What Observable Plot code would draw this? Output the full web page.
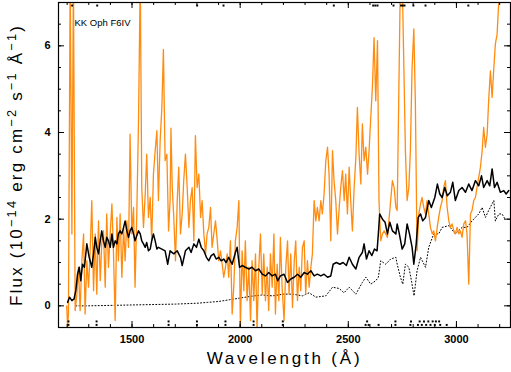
<!DOCTYPE html>
<html>
<head>
<meta charset="utf-8">
<script src="https://cdn.jsdelivr.net/npm/d3@7"></script>
<script src="https://cdn.jsdelivr.net/npm/@observablehq/plot@0.6"></script>
<style>
  html, body { margin: 0; padding: 0; background: #fff; }
  svg { display: block; }
</style>
</head>
<body>
<div id="chart"></div>
<script>
// ---- data ----
const title = "KK Oph F6IV";
const xLabel = "Wavelength (Å)";
const yLabel = "Flux (10-14 erg cm-2 s-1 Å-1)";
const xMajorTicks = [1500, 2000, 2500, 3000];
const yMajorTicks = [0, 2, 4, 6];

// orange (noisy) spectrum
const orangeWave = [1198,1202,1206,1214,1222,1229,1237,1245,1252,1260,1268,1276,1283,1291,1299,1306,1314,1322,1330,1337,1345,1353,1360,1368,1376,1383,1391,1399,1407,1414,1422,1430,1437,1445,1453,1461,1468,1476,1484,1491,1499,1507,1514,1522,1530,1538,1545,1553,1561,1568,1576,1584,1591,1599,1607,1615,1622,1630,1638,1645,1653,1661,1669,1676,1680,1686,1693,1701,1709,1716,1724,1732,1739,1747,1755,1763,1770,1778,1786,1793,1801,1809,1817,1824,1832,1840,1847,1855,1863,1870,1878,1886,1894,1901,1909,1917,1924,1932,1940,1947,1955,1963,1971,1978,1986,1994,2001,2009,2017,2024,2032,2040,2048,2055,2063,2071,2078,2086,2094,2102,2109,2117,2125,2132,2140,2148,2156,2163,2171,2179,2186,2194,2203,2211,2219,2226,2234,2242,2250,2257,2265,2273,2280,2288,2296,2303,2311,2319,2327,2334,2342,2350,2357,2365,2373,2380,2388,2396,2404,2411,2419,2427,2434,2442,2450,2458,2465,2473,2481,2488,2496,2504,2511,2519,2527,2535,2542,2550,2558,2565,2573,2581,2589,2596,2604,2612,2619,2627,2635,2642,2650,2658,2666,2673,2681,2689,2696,2704,2712,2720,2726,2733,2741,2749,2757,2764,2772,2780,2787,2795,2803,2810,2818,2826,2834,2841,2849,2857,2864,2872,2880,2888,2895,2903,2911,2918,2926,2934,2941,2949,2957,2965,2972,2980,2988,2995,3003,3011,3018,3026,3034,3042,3049,3057,3065,3072,3080,3088,3095,3103,3111,3119,3126,3134,3142,3149,3157,3165,3173,3180,3188,3196,3203,3211];
const orangeFlux = [0.0,-0.5,-0.19,7.6,1.66,7.6,-0.11,0.27,0.89,-0.11,1.04,1.66,-0.19,1.04,0.43,1.2,2.43,0.35,1.66,0.27,1.96,0.58,1.43,1.73,0.43,2.12,0.89,1.66,2.35,1.27,-0.34,2.04,1.04,2.12,0.66,1.81,1.04,1.96,1.35,3.96,1.66,2.27,0.43,2.12,4.27,7.6,2.73,1.81,2.58,3.5,2.04,2.5,1.5,3.04,3.58,4.04,2.43,3.81,4.58,5.92,3.35,3.5,1.73,2.43,4.1,2.73,2.04,1.04,2.43,3.2,1.66,2.12,2.89,3.5,2.73,1.81,2.43,2.73,1.5,3.93,2.73,3.04,2.04,2.43,1.66,1.2,1.66,1.81,2.27,1.35,1.66,1.96,1.5,1.04,1.27,0.96,0.66,0.89,1.2,0.66,1.5,-0.19,0.5,1.5,1.81,2.43,-0.5,1.27,0.35,1.5,0.12,0.89,-0.34,1.04,0.12,1.2,-0.55,0.89,1.66,0.27,1.2,0.12,0.89,-0.11,1.2,0.43,1.66,-0.19,0.96,0.12,1.58,0.43,-0.34,0.89,1.5,0.27,1.2,-0.04,1.04,1.5,0.12,0.89,0.35,1.35,1.5,0.27,1.04,0.43,0.89,1.2,2.43,1.96,2.27,1.96,2.43,2.12,2.58,3.35,3.66,3.04,1.5,3.58,2.89,2.43,1.66,2.27,2.73,3.12,2.43,3.04,2.12,3.2,2.43,1.73,2.73,3.43,4.58,3.5,2.81,4.2,3.35,3.66,3.04,3.58,4.35,5.12,6.19,4.73,6.12,2.43,1.5,1.66,1.73,1.66,1.58,2.04,2.43,2.89,2.73,2.27,2.2,4.7,7.6,7.6,5.5,3.58,2.43,2.73,3.58,5.5,6.39,4.73,1.27,2.12,2.35,2.5,2.27,2.12,2.43,2.12,1.81,1.66,1.73,1.5,1.81,2.04,2.27,2.43,2.73,2.89,2.27,1.96,1.81,1.89,1.73,1.66,1.81,1.66,1.73,1.58,1.89,1.96,1.66,0.5,2.12,2.2,2.43,2.5,2.73,2.96,3.2,3.58,4.12,3.66,3.96,4.73,5.42,4.81,5.5,6.04,6.27,7.04,7.6,8.0];

// black (solid) spectrum
const blackWave = [1202,1211,1222,1232,1240,1248,1256,1263,1271,1280,1291,1302,1314,1322,1330,1337,1345,1353,1360,1368,1376,1383,1391,1399,1407,1414,1422,1430,1437,1445,1453,1461,1468,1476,1484,1491,1499,1507,1514,1522,1530,1538,1545,1553,1561,1568,1576,1584,1591,1599,1607,1615,1622,1638,1653,1665,1676,1693,1709,1724,1732,1747,1763,1773,1786,1798,1809,1820,1832,1844,1855,1866,1878,1889,1901,1912,1924,1935,1947,1963,1978,1986,1997,2009,2024,2040,2055,2071,2086,2102,2117,2132,2148,2163,2174,2186,2203,2219,2234,2250,2265,2280,2296,2311,2327,2342,2357,2373,2388,2404,2419,2430,2445,2461,2476,2491,2504,2519,2535,2550,2565,2573,2584,2596,2609,2621,2633,2639,2645,2658,2670,2681,2692,2704,2720,2726,2736,2749,2761,2772,2783,2795,2803,2814,2823,2834,2844,2857,2872,2884,2900,2912,2923,2934,2946,2958,2972,2983,2995,3011,3026,3042,3057,3072,3088,3103,3116,3126,3142,3154,3165,3176,3188,3203,3219,3230,3242];
const blackFlux = [0.08,0.2,0.12,0.16,0.35,0.73,0.89,0.58,0.96,0.89,1.43,1.12,0.89,1.2,1.58,1.35,1.2,1.5,1.73,1.5,1.35,1.58,1.5,1.35,1.66,1.35,1.5,1.43,1.66,1.73,1.66,1.81,1.96,1.73,1.58,1.73,1.81,1.66,1.5,1.62,1.73,1.66,1.5,1.43,1.35,1.46,1.27,1.31,1.5,1.66,1.5,1.31,1.35,1.31,1.27,0.96,1.27,1.2,1.27,1.12,0.93,1.27,1.35,1.23,1.43,1.35,1.54,1.35,1.27,1.12,1.04,1.16,1.2,1.08,1.12,1.04,1.08,1.0,1.12,0.96,1.23,1.35,0.89,0.93,0.89,0.85,0.89,0.81,0.85,0.73,0.69,0.77,0.69,0.73,0.58,0.69,0.73,0.54,0.62,0.66,0.73,0.66,0.77,0.73,0.81,0.69,0.73,0.69,0.73,0.66,0.69,0.96,1.0,0.96,1.0,0.93,1.12,0.96,0.85,1.12,1.23,1.43,1.08,1.27,1.16,1.31,1.27,1.66,2.12,2.0,1.93,1.66,1.93,1.73,1.66,1.89,1.66,1.31,1.43,1.89,1.66,1.35,0.96,1.43,2.04,2.12,1.96,2.04,2.43,2.27,2.5,2.81,2.58,2.5,2.73,2.54,2.62,2.85,2.43,2.66,2.73,2.62,2.81,2.66,2.89,2.77,3.0,2.73,2.89,2.77,3.16,2.73,2.85,2.62,2.66,2.58,2.66];

// dotted spectrum
const dottedWave = [1240,1300,1400,1500,1600,1700,1750,1800,1850,1900,1950,2000,2050,2100,2150,2200,2242,2288,2319,2350,2396,2427,2458,2480,2504,2535,2565,2581,2604,2627,2639,2650,2673,2696,2720,2726,2741,2752,2764,2780,2792,2804,2818,2834,2857,2872,2895,2918,2934,2965,2995,3026,3049,3072,3103,3119,3134,3149,3173,3180,3196,3211,3225];
const dottedFlux = [0.0,0.0,0.01,0.02,0.03,0.04,0.05,0.06,0.08,0.1,0.14,0.18,0.22,0.25,0.23,0.27,0.27,0.23,0.3,0.2,0.23,0.43,0.4,0.3,0.43,0.27,0.54,0.66,0.5,0.58,0.66,1.04,0.96,1.08,1.12,0.96,0.66,0.5,0.96,0.89,0.58,0.23,0.81,1.12,0.89,1.35,1.66,1.66,1.81,1.85,1.66,1.81,1.81,1.96,2.12,2.27,2.04,2.2,2.43,1.96,2.12,2.12,2.0];

// flagged-pixel markers
const topFlagWave = [1223,1339,1801,1923,2433,2615,2625,2635,2709,2744,2752,2760,2801,2857,3055];
const topFlagFlux = 6.93;
const bottomFlagWaveA = [1206,1336,1669,1800,1932,2062,2197,2587,2718,2790,2830,2850,2870,2890,2905,2920];
const bottomFlagWaveB = [1206,1336,1669,1800,1932,2062,2197,2580,2594,2640,2718,2787,2822,2840,2860,2880,2900,2925,2955];
const bottomFlagFluxA = -0.36;
const bottomFlagFluxB = -0.44;

const xMinorTicks = d3.range(1200, 3201, 100);
const yMinorTicks = d3.range(-0.5, 7.01, 0.5);

// ---- build ----
const zip = (xs, ys) => xs.map((x, i) => ({x, y: ys[i]}));
const orange = zip(orangeWave, orangeFlux);
const black = zip(blackWave, blackFlux);
const dotted = zip(dottedWave, dottedFlux);
const topFlags = topFlagWave.map(x => ({x, y: topFlagFlux}));
const botFlags = bottomFlagWaveA.map(x => ({x, y: bottomFlagFluxA}))
  .concat(bottomFlagWaveB.map(x => ({x, y: bottomFlagFluxB})));

const W = 511, H = 372;
const mL = 58, mR = 1, mT = 2, mB = 45;
const fw = W - mL - mR, fh = H - mT - mB;

const chart = Plot.plot({
  width: W, height: H,
  marginLeft: mL, marginRight: mR, marginTop: mT, marginBottom: mB,
  style: {fontFamily: "Liberation Sans, Arial, sans-serif", background: "#fff", color: "#000"},
  x: {domain: [1160, 3250]},
  y: {domain: [-0.5, 7]},
  marks: [
    Plot.line(dotted, {x: "x", y: "y", stroke: "#000", strokeWidth: 1, strokeDasharray: "1,2.2", clip: true}),
    Plot.line(orange, {x: "x", y: "y", stroke: "#ff8c10", strokeWidth: 1.3, clip: true}),
    Plot.line(black, {x: "x", y: "y", stroke: "#000", strokeWidth: 1.5, clip: true}),
    Plot.dot(topFlags, {x: "x", y: "y", symbol: "square", r: 1.1, fill: "#000"}),
    Plot.dot(botFlags, {x: "x", y: "y", symbol: "square", r: 1.1, fill: "#000"}),
    // inward ticks on all four sides
    Plot.tickX(xMinorTicks, {x: d => d, insetTop: fh - 3, stroke: "#000"}),
    Plot.tickX(xMajorTicks, {x: d => d, insetTop: fh - 6, stroke: "#000"}),
    Plot.tickX(xMinorTicks, {x: d => d, insetBottom: fh - 3, stroke: "#000"}),
    Plot.tickX(xMajorTicks, {x: d => d, insetBottom: fh - 6, stroke: "#000"}),
    Plot.tickY(yMinorTicks, {y: d => d, insetRight: fw - 3, stroke: "#000"}),
    Plot.tickY(yMajorTicks, {y: d => d, insetRight: fw - 6, stroke: "#000"}),
    Plot.tickY(yMinorTicks, {y: d => d, insetLeft: fw - 3, stroke: "#000"}),
    Plot.tickY(yMajorTicks, {y: d => d, insetLeft: fw - 6, stroke: "#000"}),
    Plot.axisX({ticks: xMajorTicks, tickSize: 0, tickPadding: 8, label: null, fontSize: 11, fontWeight: "bold", tickFormat: d => String(d)}),
    Plot.axisY({ticks: yMajorTicks, tickSize: 0, tickPadding: 8, label: null, fontSize: 11, fontWeight: "bold", tickFormat: d => String(d)}),
    Plot.frame({stroke: "#000", strokeWidth: 1.2}),
    Plot.text([title], {frameAnchor: "top-left", dx: 16, dy: 20, lineAnchor: "middle", textAnchor: "start", fontSize: 9.5, fill: "#000"}),
    Plot.text([xLabel], {frameAnchor: "bottom", dy: 31, lineAnchor: "middle", textAnchor: "middle", fontSize: 17, fill: "#000"}),
    Plot.text([yLabel], {frameAnchor: "left", dx: -42, rotate: -90, lineAnchor: "middle", textAnchor: "middle", fontSize: 17, fill: "#000"})
  ]
});
document.getElementById("chart").appendChild(chart);

// letter spacing for axis titles and real superscripts in the flux unit
d3.select(chart).selectAll("text").each(function() {
  if (this.textContent === xLabel) this.setAttribute("letter-spacing", "2.8");
  if (this.textContent === yLabel) {
    this.setAttribute("letter-spacing", "2.2");
    this.setAttribute("text-anchor", "middle");
    const parts = [["Flux (10", false], ["−14", true], [" erg cm", false], ["−2", true], [" s", false], ["−1", true], [" Å", false], ["−1", true], [")", false]];
    this.textContent = "";
    for (const [s, sup] of parts) {
      const t = document.createElementNS("http://www.w3.org/2000/svg", "tspan");
      t.textContent = s;
      if (sup) { t.setAttribute("dy", "-0.45em"); t.setAttribute("font-size", "0.75em"); }
      else if (s !== "Flux (10") { t.setAttribute("dy", "0.34em"); }
      this.appendChild(t);
    }
  }
});
</script>
</body>
</html>
